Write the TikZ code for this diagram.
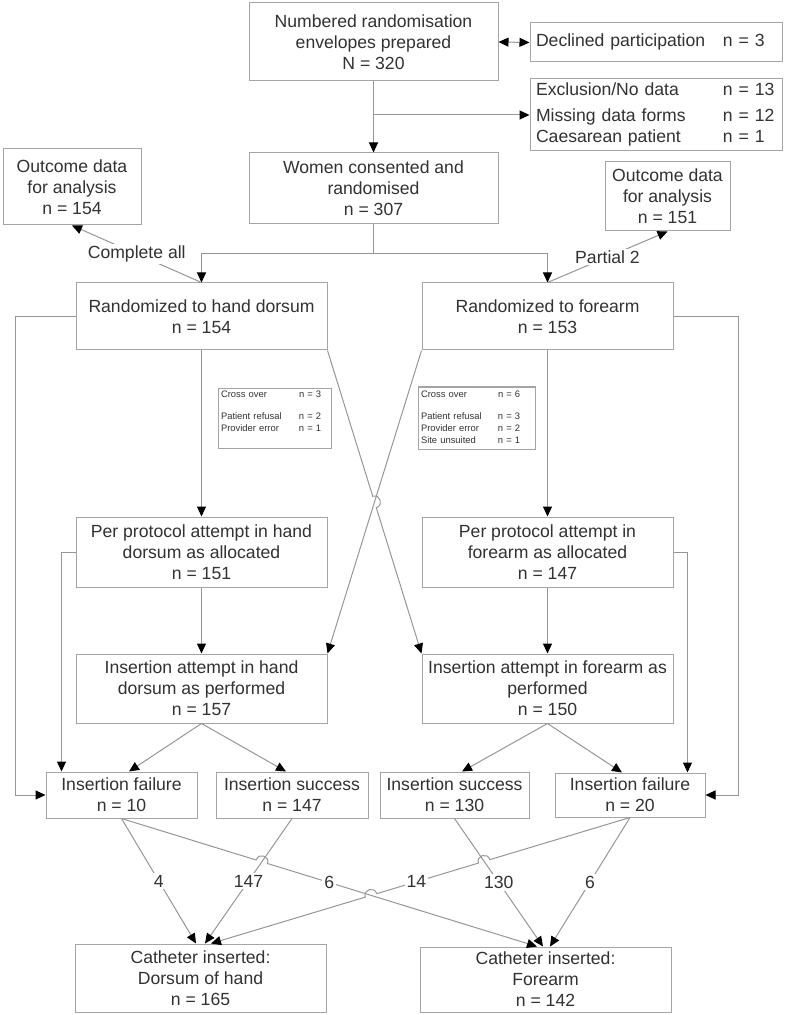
\documentclass[tikz,border=0pt]{standalone}
\usepackage{fontspec}
\setmainfont{Liberation Sans}
\usetikzlibrary{arrows.meta,calc,intersections,positioning}
\definecolor{linegray}{RGB}{150,150,150}
\definecolor{boxgray}{RGB}{165,165,165}
\definecolor{textgray}{RGB}{50,50,50}
\tikzset{
  box/.style={draw=boxgray,line width=.5pt,fill=white,inner sep=0pt,align=center,
    text=textgray,font=\fontsize{8.8}{10.5}\selectfont},
  listbox/.style={box,align=left,inner xsep=3pt,text width=120pt,minimum width=126pt},
  smallbox/.style={box,align=left,inner xsep=1.5pt,font=\fontsize{4.7}{6}\selectfont},
  line/.style={draw=linegray,line width=.5pt},
  arr/.style={line,-{Triangle[length=5pt,width=4.5pt,color=black]}},
  arrboth/.style={line,{Triangle[length=5pt,width=4.5pt,color=black]}-{Triangle[length=5pt,width=4.5pt,color=black]}},
  lbl/.style={fill=white,inner sep=1pt,text=textgray,font=\fontsize{8.8}{10.5}\selectfont},
  hopl/.style={bend left=90,looseness=1.7},
  hopr/.style={bend right=90,looseness=1.7}
}
\begin{document}
\begin{tikzpicture}[x=.5pt,y=-.5pt]
\useasboundingbox(0,0)rectangle(787,1015);
%top
\node[box,minimum width=124.5pt,minimum height=39pt] (env) at (373.5,42) {Numbered randomisation\\envelopes prepared\\N = 320};
\node[listbox,minimum height=19.5pt] (decl) at (656,42.5) {\begin{tabular}{@{}p{93.5pt}@{}l@{}}Declined participation&n = 3\end{tabular}};
\node[listbox,minimum height=36pt] (excl) at (656,115) {\begin{tabular}{@{}p{93.5pt}@{}l@{}}Exclusion/No data&n = 13\\[2.5pt]Missing data forms&n = 12\\Caesarean patient&n = 1\end{tabular}};
\node[box,minimum width=124.5pt,minimum height=35.5pt] (wom) at (373.5,188.5) {Women consented and\\randomised\\n = 307};
\node[box,minimum width=69pt,minimum height=38pt] (outhand) at (72,187) {Outcome data\\for analysis\\n = 154};
\node[box,minimum width=62.5pt,minimum height=34.5pt] (outfore) at (667.5,196.5) {Outcome data\\for analysis\\n = 151};
%arms
\node[box,minimum width=125.5pt,minimum height=33.5pt] (hand) at (201.5,316.5) {Randomized to hand dorsum\\n = 154};
\node[box,minimum width=125.5pt,minimum height=33.5pt] (fore) at (547.5,316.5) {Randomized to forearm\\n = 153};
\node[smallbox,minimum width=56.5pt,minimum height=30pt,text width=53.5pt] (crosshand) at (274.5,418) {\begin{tabular}{@{}p{39pt}@{}l@{}}Cross over&n = 3\\[5pt]Patient refusal&n = 2\\Provider error&n = 1\\&\end{tabular}};
\node[smallbox,minimum width=58.5pt,minimum height=31pt,text width=55.5pt] (crossfore) at (476.5,418) {\begin{tabular}{@{}p{38.5pt}@{}l@{}}Cross over&n = 6\\[5pt]Patient refusal&n = 3\\Provider error&n = 2\\Site unsuited&n = 1\end{tabular}};
\node[box,minimum width=125.5pt,minimum height=35pt] (pphand) at (201.5,552) {Per protocol attempt in hand\\dorsum as allocated\\n = 151};
\node[box,minimum width=125.5pt,minimum height=35pt] (ppfore) at (547.5,552) {Per protocol attempt in\\forearm as allocated\\n = 147};
\node[box,minimum width=125.5pt,minimum height=34.5pt] (iahand) at (201.5,688.5) {Insertion attempt in hand\\dorsum as performed\\n = 157};
\node[box,minimum width=125.5pt,minimum height=34.5pt] (iafore) at (547.5,688.5) {Insertion attempt in forearm as\\performed\\n = 150};
%outcomes
\node[box,minimum width=75.5pt,minimum height=23pt] (failhand) at (121.5,795) {Insertion failure\\n = 10};
\node[box,minimum width=76pt,minimum height=23pt] (succhand) at (292,795) {Insertion success\\n = 147};
\node[box,minimum width=74.5pt,minimum height=23pt] (succfore) at (454.5,795) {Insertion success\\n = 130};
\node[box,minimum width=75pt,minimum height=22pt] (failfore) at (630,795) {Insertion failure\\n = 20};
\node[box,minimum width=125.5pt,minimum height=34pt] (cathhand) at (200.5,978) {Catheter inserted:\\Dorsum of hand\\n = 165};
\node[box,minimum width=125.5pt,minimum height=32.5pt] (cathfore) at (545.5,979.5) {Catheter inserted:\\Forearm\\n = 142};
%arrows
\draw[arr] (env.south) -- (wom.north);
\draw[arrboth] (env.east) -- (decl.west);
\coordinate (exsplit) at (env.south |- excl.west);
\draw[arr] (exsplit) -- (excl.west);
\coordinate (split) at ($(wom.south)+(0,29)$);
\draw[line] (wom.south) -- (split);
\draw[arr] (split) -| (hand.north);
\draw[arr] (split) -| (fore.north);
\draw[arr] (hand.north) -- node[lbl]{Complete all} (outhand.south);
\draw[arr] (fore.north) -- node[lbl]{Partial 2} (outfore.south);
\draw[arr] (hand.west) -- ++(-60,0) |- (failhand.west);
\draw[arr] (fore.east) -- ++(65,0) |- (failfore.east);
\draw[arr] (hand.south) -- (pphand.north);
\draw[arr] (fore.south) -- (ppfore.north);
\draw[arr] (pphand.west) -| ([xshift=8pt]failhand.north west);
\draw[arr] (ppfore.east) -| ([xshift=-9pt]failfore.north east);
\draw[arr] (pphand.south) -- (iahand.north);
\draw[arr] (ppfore.south) -- (iafore.north);
%cross over lines
\path[name path=dg] (fore.south west) -- (iahand.north east);
\path[name path=ch] (hand.south east) -- (iafore.north west);
\path[name intersections={of=dg and ch,by=mx}];
\draw[arr] (fore.south west) -- (iahand.north east);
\draw[arr] (hand.south east) -- ($(mx)!3pt!(hand.south east)$) to[hopl] ($(mx)!3pt!(iafore.north west)$) -- (iafore.north west);
\draw[arr] (iahand.south) -- ([xshift=3.75pt]failhand.north);
\draw[arr] (iahand.south) -- ([xshift=-3pt]succhand.north);
\draw[arr] (iafore.south) -- ([xshift=3.75pt]succfore.north);
\draw[arr] (iafore.south) -- ([xshift=-4pt]failfore.north);
%bottom
\coordinate (inh1) at ([xshift=-2.25pt]cathhand.north);
\coordinate (inh2) at ([xshift=2.25pt]cathhand.north);
\coordinate (inh3) at ([xshift=5.25pt]cathhand.north);
\coordinate (inf1) at ([xshift=-4.25pt]cathfore.north);
\coordinate (inf2) at ([xshift=-1.25pt]cathfore.north);
\coordinate (inf3) at ([xshift=2.25pt]cathfore.north);
\path[name path=s147] (succhand.south) -- (inh2);
\path[name path=f6] (failhand.south) -- (inf1);
\path[name path=f14] (failfore.south) -- (inh3);
\path[name path=s130] (succfore.south) -- (inf2);
\path[name intersections={of=s147 and f6,by=k1}];
\path[name intersections={of=s130 and f14,by=k2}];
\path[name intersections={of=f6 and f14,by=k3}];
\draw[arr] (failhand.south) -- (inh1);
\draw[arr] (succhand.south) -- (inh2);
\draw[arr] (failhand.south) -- ($(k1)!3pt!(failhand.south)$) to[hopl] ($(k1)!3pt!(inf1)$) -- (inf1);
\draw[arr] (failfore.south) -- ($(k2)!3pt!(failfore.south)$) to[hopr] ($(k2)!3pt!(inh3)$)
  -- ($(k3)!3pt!(failfore.south)$) to[hopr] ($(k3)!3pt!(inh3)$) -- (inh3);
\draw[arr] (succfore.south) -- (inf2);
\draw[arr] (failfore.south) -- (inf3);
%numbers
\node[lbl] at ($(failhand.south)!.5!(inh1)$) {4};
\node[lbl] at ($(succhand.south)!.5!(inh2)$) {147};
\node[lbl] at ($(failhand.south)!.5!(inf1)$) {6};
\node[lbl] at ($(failfore.south)!.51!(inh3)$) {14};
\node[lbl] at ($(succfore.south)!.5!(inf2)$) {130};
\node[lbl] at ($(failfore.south)!.5!(inf3)$) {6};
\end{tikzpicture}
\end{document}
